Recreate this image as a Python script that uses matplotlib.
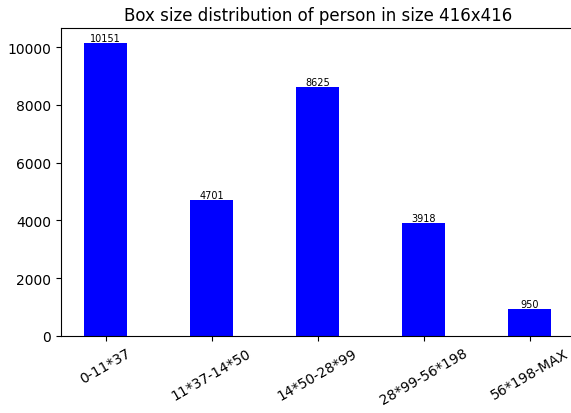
import matplotlib
matplotlib.use("Agg")
import matplotlib.pyplot as plt

categories = ["0-11*37", "11*37-14*50", "14*50-28*99", "28*99-56*198", "56*198-MAX"]
counts = [10151, 4701, 8625, 3918, 950]

fig = plt.figure(figsize=(5.71, 4.14), dpi=100)
ax = fig.add_axes([0.1068, 0.186, 0.92, 0.744])
x = list(range(len(categories)))
bars = ax.bar(x, counts, width=0.4, color="blue")
for b, v in zip(bars, counts):
    ax.text(b.get_x() + b.get_width() / 2, b.get_height(), str(v),
            ha="center", va="bottom", fontsize=7)
ax.set_xlim(-0.42, 4.535)
ax.spines["right"].set_visible(False)
ax.set_xticks(x)
ax.set_xticklabels(categories, rotation=30)
ax.set_title("Box size distribution of person in size 416x416", fontsize=12, x=0.489)
fig.savefig("out.png", dpi=100)
